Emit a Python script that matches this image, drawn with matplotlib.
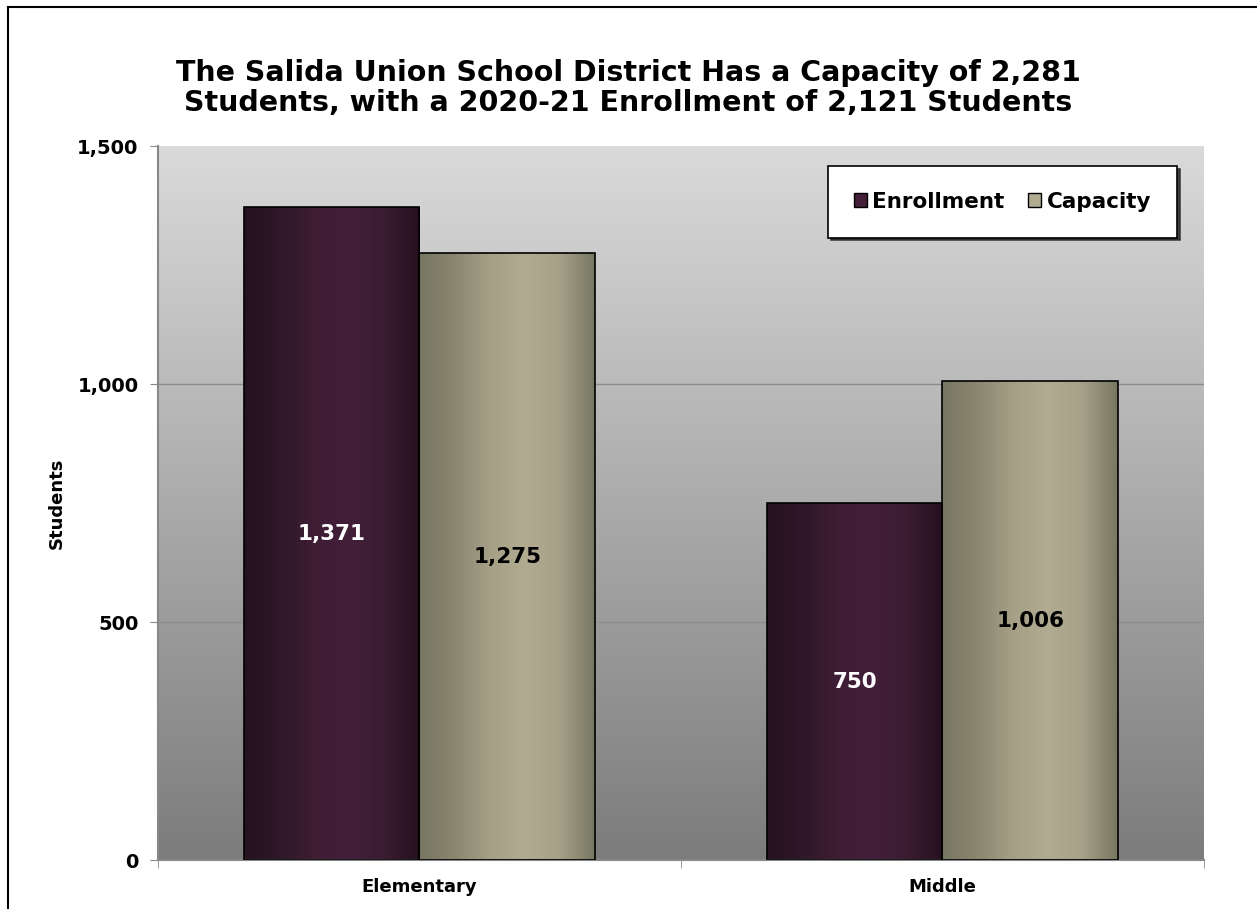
import numpy as np
import matplotlib.pyplot as plt
from matplotlib.patches import Rectangle
from matplotlib.colors import LinearSegmentedColormap
from matplotlib.lines import Line2D
from matplotlib.ticker import FuncFormatter

categories = ["Elementary", "Middle"]
enrollment = [1371, 750]
capacity = [1275, 1006]
series_names = ["Enrollment", "Capacity"]
title = ("The Salida Union School District Has a Capacity of 2,281\n"
         "Students, with a 2020-21 Enrollment of 2,121 Students")

plt.rcParams['font.family'] = ['DejaVu Sans']
plt.rcParams['font.weight'] = 'bold'

fig = plt.figure(figsize=(12.57, 9.09), dpi=100)
W, H = 1257, 909
ax = fig.add_axes([158 / W, 1 - 860 / H, (1204 - 158) / W, (860 - 146) / H])

# frame around the figure (top and left only are visible)
fig.add_artist(Line2D([8 / W, 1.0], [1 - 7 / H, 1 - 7 / H], color="black", lw=1.5))
fig.add_artist(Line2D([8 / W, 8 / W], [1 - 7 / H, 0], color="black", lw=1.5))

# background gradient of the plot area
bg = LinearSegmentedColormap.from_list("bg", ["#7c7c7c", "#dadada"])
ax.imshow(np.linspace(0, 1, 256).reshape(-1, 1), cmap=bg, origin="lower",
          extent=[0, 1, 0, 1], transform=ax.transAxes, aspect="auto", zorder=0)

x = np.arange(len(categories))
w = 0.335
enr_cmap = LinearSegmentedColormap.from_list(
    "enr", ["#26111f", "#2e1829", "#3e1d35", "#431f3a", "#3a1c33", "#25101e"])
cap_cmap = LinearSegmentedColormap.from_list(
    "cap", ["#777761", "#8a8670", "#a59f86", "#b1ab91", "#a7a189", "#777761"])

grad = np.linspace(0, 1, 256).reshape(1, -1)
for vals, off, cmap in [(enrollment, -w / 2, enr_cmap), (capacity, w / 2, cap_cmap)]:
    bars = ax.bar(x + off, vals, w, color="none", edgecolor="black", lw=1.2, zorder=3)
    for b in bars:
        x0, y0 = b.get_x(), b.get_y()
        im = ax.imshow(grad, cmap=cmap, extent=[x0, x0 + b.get_width(), y0, y0 + b.get_height()],
                       aspect="auto", zorder=2)
        im.set_clip_path(b)

for i in range(len(categories)):
    ax.text(x[i] - w / 2, enrollment[i] / 2, f"{enrollment[i]:,}", color="white",
            ha="center", va="center", fontsize=15.5, fontweight="bold", zorder=4)
    ax.text(x[i] + w / 2, capacity[i] / 2, f"{capacity[i]:,}", color="black",
            ha="center", va="center", fontsize=15.5, fontweight="bold", zorder=4)

ax.set_xlim(-0.5, 1.5)
ax.set_ylim(0, 1500)
ax.set_yticks([0, 500, 1000, 1500])
ax.yaxis.set_major_formatter(FuncFormatter(lambda v, p: f"{int(v):,}"))
ax.set_xticks(x)
ax.set_xticklabels(categories, fontsize=13, fontweight="bold")
ax.set_xticks([-0.5, 0.5, 1.5], minor=True)
ax.tick_params(axis="x", which="minor", length=6, color="#888888")
ax.tick_params(axis="x", which="major", length=0, pad=13)
ax.tick_params(axis="y", length=6, color="#888888", labelsize=14, pad=8)
for t in ax.get_yticklabels():
    t.set_fontweight("bold")
for yv in [500, 1000]:
    ax.axhline(yv, color="#8c8c8c", lw=1, zorder=1)
for s in ["top", "right"]:
    ax.spines[s].set_visible(False)
ax.spines["left"].set_color("#888888")
ax.spines["bottom"].set_color("#888888")
ax.spines["left"].set_linewidth(1.5)
ax.spines["bottom"].set_linewidth(1.5)
ax.set_ylabel("Students", fontsize=13, fontweight="bold", labelpad=8)

fig.text(0.5, 1 - 88 / H, title, ha="center", va="center", fontsize=20.5,
         fontweight="bold", linespacing=1.05)

# legend with shadow
handles = [Rectangle((0, 0), 1, 1, fc=enr_cmap(0.6), ec="black", lw=1),
           Rectangle((0, 0), 1, 1, fc=cap_cmap(0.6), ec="black", lw=1)]
leg = ax.legend(handles, series_names, loc="upper right", ncol=2,
                bbox_to_anchor=((1177 - 158) / (1204 - 158), (860 - 166) / (860 - 146)),
                prop={"weight": "bold", "size": 15.5}, frameon=True,
                fancybox=False, shadow={"color": "#222222", "alpha": 0.8},
                handlelength=0.6, handleheight=0.6, handletextpad=0.25,
                columnspacing=1.1, borderpad=1.2, borderaxespad=0, edgecolor="black")
leg.get_frame().set_linewidth(1.2)
leg.set_zorder(5)

fig.savefig("out.png", dpi=100)
